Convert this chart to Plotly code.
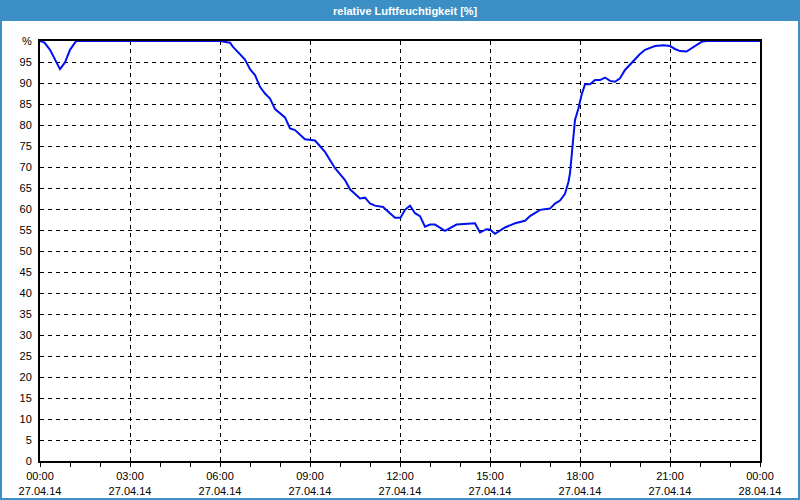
import plotly.graph_objects as go

# Data (27.04.14)
times = [
    "00:00", "00:09", "00:20", "00:30", "00:40", "00:50", "01:00", "01:10", "01:13",
    "06:00", "06:20", "06:26", "06:50", "07:00", "07:10", "07:20", "07:30", "07:40",
    "07:50", "08:10", "08:20", "08:30", "08:50", "09:10", "09:30", "09:50", "10:10",
    "10:20", "10:40", "10:50", "11:00", "11:10", "11:26", "11:50", "12:01", "12:10",
    "12:20", "12:30", "12:40", "12:50", "13:00", "13:10", "13:30", "13:53", "14:30",
    "14:40", "14:53", "15:00", "15:10", "15:30", "15:50", "16:10", "16:20", "16:40",
    "17:00", "17:10", "17:20", "17:30", "17:37", "17:40", "17:43", "17:47", "17:50",
    "17:57", "18:03", "18:10", "18:20", "18:30", "18:40", "18:50", "19:00", "19:10",
    "19:20", "19:30", "19:40", "20:00", "20:10", "20:30", "20:47", "21:00", "21:10",
    "21:20", "21:33", "21:50", "22:03", "22:13",
]
humidity = [
    100, 99.6, 97.9, 95.5, 93.3, 94.9, 97.9, 99.6, 100,
    100, 99.6, 98.6, 95.6, 93.3, 91.9, 89.1, 87.5, 86.3,
    83.8, 81.8, 79.2, 78.8, 76.6, 76.3, 73.6, 69.7, 66.9,
    64.7, 62.5, 62.7, 61.3, 60.8, 60.5, 57.9, 57.9, 59.8,
    60.8, 59.0, 58.3, 55.8, 56.3, 56.3, 54.8, 56.3, 56.6,
    54.4, 55.2, 55.1, 54.1, 55.6, 56.6, 57.2, 58.3, 59.8,
    60.1, 61.3, 62.0, 63.6, 66.5, 68.5, 72.9, 78.0, 81.2,
    84.0, 87.1, 89.7, 89.7, 90.7, 90.7, 91.3, 90.5, 90.3,
    91.1, 93.1, 94.4, 96.9, 97.9, 98.8, 99.0, 98.8, 98.1,
    97.6, 97.5, 98.8, 99.8, 100,
]
end_time = "2014-04-28 00:00"
end_value = 100

y_ticks = list(range(0, 101, 5))
y_labels = [str(v) for v in y_ticks[:-1]] + ["%"]

x = ["2014-04-27 " + t for t in times] + [end_time]
y = humidity + [end_value]

title_text = "relative Luftfeuchtigkeit [%]"
BLUE = "#3c8fc5"

fig = go.Figure()
fig.add_trace(go.Scatter(
    x=x, y=y, mode="lines",
    line=dict(color="#0010f0", width=2),
    hoverinfo="x+y",
    cliponaxis=False,
))

# pixel -> paper helpers (plot area 40..760 x, 41..461 y)
def px(p):
    return (p - 40) / 720.0

def py(p):
    return (461 - p) / 420.0

shapes = [
    # title bar
    dict(type="rect", xref="paper", yref="paper", x0=px(-5), x1=px(805), y0=py(21), y1=py(-5),
         fillcolor=BLUE, line=dict(width=0), layer="above"),
    # borders
    dict(type="rect", xref="paper", yref="paper", x0=px(-5), x1=px(2), y0=py(505), y1=py(-5),
         fillcolor=BLUE, line=dict(width=0), layer="above"),
    dict(type="rect", xref="paper", yref="paper", x0=px(798), x1=px(805), y0=py(505), y1=py(-5),
         fillcolor=BLUE, line=dict(width=0), layer="above"),
    dict(type="rect", xref="paper", yref="paper", x0=px(-5), x1=px(805), y0=py(505), y1=py(498),
         fillcolor=BLUE, line=dict(width=0), layer="above"),
]

fig.update_layout(
    width=800, height=500,
    margin=dict(l=40, r=40, t=41, b=39, pad=0),
    paper_bgcolor="white", plot_bgcolor="white",
    showlegend=False,
    font=dict(family="Liberation Sans, Arial, sans-serif", size=11, color="black"),
    shapes=shapes,
    annotations=[dict(
        text="<b>" + title_text + "</b>", xref="paper", yref="paper",
        x=px(405), y=py(10.5), xanchor="center", yanchor="middle", showarrow=False,
        font=dict(family="Liberation Sans, Arial, sans-serif", size=11, color="white"),
    )],
)

fig.update_xaxes(
    type="date",
    automargin=False,
    range=["2014-04-27 00:00", end_time],
    dtick=3 * 3600000,
    tick0="2014-04-27 00:00",
    tickformat="%H:%M<br>%d.%m.%y",
    ticks="outside", ticklen=4, tickcolor="black", tickwidth=1,
    showgrid=True, gridcolor="black", gridwidth=1, griddash="4px,4px",
    showline=True, linecolor="black", linewidth=2, mirror=True,
    minor=dict(dtick=3600000, ticks="outside", ticklen=4, tickcolor="black", showgrid=False),
    zeroline=False,
    tickfont=dict(size=11),
)
fig.update_yaxes(
    automargin=False,
    range=[0, 100],
    tickvals=y_ticks, ticktext=y_labels,
    ticks="outside", ticklen=4, tickcolor="rgba(0,0,0,0)",
    showgrid=True, gridcolor="black", gridwidth=1, griddash="4px,4px",
    showline=True, linecolor="black", linewidth=2, mirror=True,
    zeroline=False,
    tickfont=dict(size=11),
)

fig.write_html(
    "out.html",
    config={"displayModeBar": False},
    post_script="document.body.style.margin='0';document.body.style.overflow='hidden';",
)
